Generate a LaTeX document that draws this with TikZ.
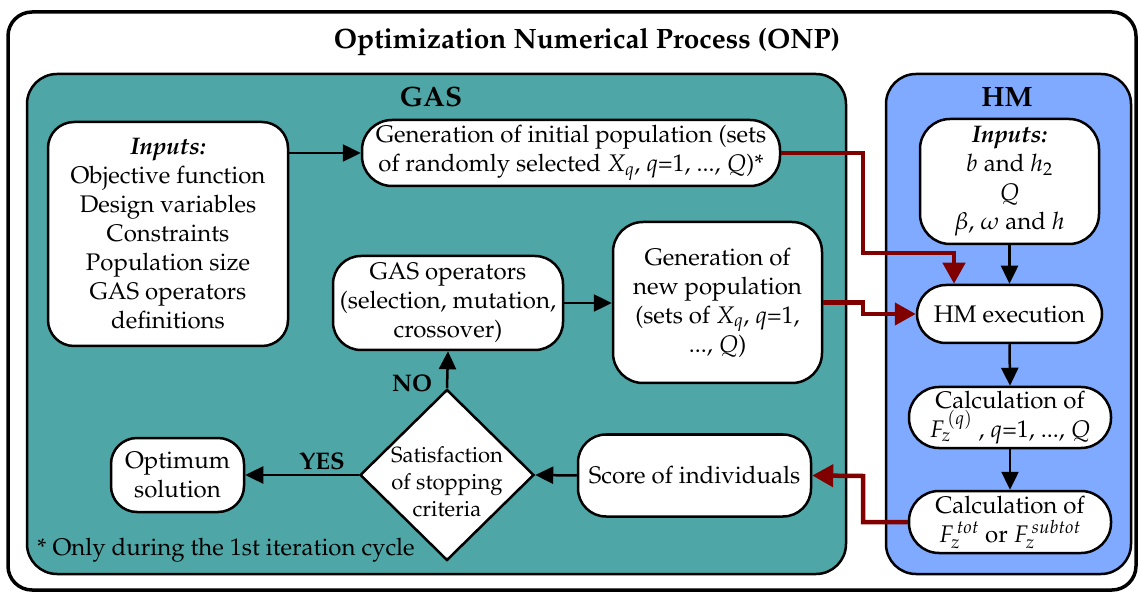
\documentclass[tikz,border=0pt]{standalone}
\usepackage[T1]{fontenc}
\usepackage{mathpazo}
\usetikzlibrary{arrows.meta,shapes.geometric,calc}
\definecolor{gasfill}{RGB}{79,166,166}
\definecolor{hmfill}{RGB}{128,170,255}
\definecolor{darkarrow}{RGB}{128,0,0}
\newcommand{\fsMain}{\fontsize{24}{29}\selectfont}
\newcommand{\fsDia}{\fontsize{22}{27}\selectfont}
\newcommand{\fsHead}{\fontsize{28}{32}\selectfont\bfseries}
\tikzset{
  box/.style={draw, fill=white, line width=2.5pt, align=center, inner sep=0pt, font=\fsMain},
  blk/.style={line width=2.5pt, -{Triangle[length=18pt,width=17pt]}},
  redarrow/.style={draw=darkarrow, line width=4.5pt, -{Triangle[length=21pt,width=22pt,fill=darkarrow]}},
  lbl/.style={font=\fontsize{24}{29}\selectfont\bfseries, inner sep=0pt}
}
\begin{document}
\begin{tikzpicture}[x=1pt,y=-1pt]
\useasboundingbox (0,0) rectangle (1138,593);
% containers
\draw[line width=3.5pt, rounded corners=24pt, fill=white] (8,12) rectangle (1136,590);
\draw[line width=2.5pt, rounded corners=30pt, fill=gasfill] (27,74) rectangle (846,574);
\draw[line width=2.5pt, rounded corners=30pt, fill=hmfill] (886,74) rectangle (1131,574);
\node[font=\fsHead] (title) at (587,42) {Optimization Numerical Process (ONP)};
\node[font=\fsHead] (gastitle) at (431,97) {GAS};
\node[font=\fsHead] (hmtitle) at (1007,97) {HM};
% GAS nodes
\node[box, rounded corners=26pt, minimum width=240pt, minimum height=224pt] (inG) at (168,234)
  {\textbf{\textit{Inputs:}}\\Objective function\\Design variables\\Constraints\\Population size\\GAS operators\\definitions};
\node[box, rounded corners=30pt, minimum width=418pt, minimum height=66pt] (init) at (571,153)
  {Generation of initial population (sets\\of randomly selected $X_q$, $q$=1, ..., $Q$)*};
\node[box, rounded corners=28pt, minimum width=230pt, minimum height=94pt] (ops) at (448,303)
  {GAS operators\\(selection, mutation,\\crossover)};
\node[box, rounded corners=30pt, minimum width=209pt, minimum height=161pt] (newp) at (717.5,302.5)
  {Generation of\\new population\\(sets of $X_q$, $q$=1,\\..., $Q$)};
\node[draw, fill=white, line width=2.5pt, shape=diamond, inner sep=0pt, minimum width=174pt, minimum height=171pt] (dia) at (447,475) {};
\node[font=\fsDia, align=center, inner sep=0pt] (diatext) at (447,482) {Satisfaction\\of stopping\\criteria};
\node[box, rounded corners=26pt, minimum width=133pt, minimum height=74pt] (opt) at (177.5,475)
  {Optimum\\solution};
\node[box, rounded corners=28pt, minimum width=233pt, minimum height=82pt] (score) at (694.5,475.5)
  {Score of individuals};
\node[font=\fsMain, anchor=west, inner sep=0pt] (foot) at (37,550) {* Only during the 1st iteration cycle};
% HM nodes
\node[box, rounded corners=30pt, minimum width=179pt, minimum height=125pt] (inH) at (1009.5,181.5)
  {\textbf{\textit{Inputs:}}\\$b$ and $h_2$\\$Q$\\$\beta$, $\omega$ and $h$};
\node[box, rounded corners=29pt, minimum width=185pt, minimum height=58pt] (exec) at (1009.5,314)
  {HM execution};
\node[box, rounded corners=30pt, minimum width=202pt, minimum height=61pt] (c1) at (1010,417.5)
  {Calculation of\\$F_z^{\,(q)}$ , $q$=1, ..., $Q$};
\node[box, rounded corners=30pt, minimum width=202pt, minimum height=62pt] (c2) at (1010,522)
  {Calculation of\\$F_z^{\,tot}$ or $F_z^{\,subtot}$};
% black connectors
\draw[blk] (inG.east |- init.west) -- (init.west);
\draw[blk] (ops.east) -- (ops.east -| newp.west);
\draw[blk] (dia.north) -- (ops.south);
\draw[blk] (dia.west) -- (dia.west -| opt.east);
\draw[blk] (score.west) -- (dia.east);
\draw[blk] (inH.south) -- (exec.north);
\draw[blk] (exec.south) -- (c1.north);
\draw[blk] (c1.south) -- (c2.north);
\node[lbl] (nolbl) at (412,383) {NO};
\node[lbl] (yeslbl) at (322,461) {YES};
% red connectors
\coordinate (r1) at (863,253);
\coordinate (r2) at (863,314);
\coordinate (r3) at (863,476);
\draw[redarrow] (init.east) -| (r1) -| ([xshift=-55.5pt]exec.north);
\draw[redarrow] (newp.east) -| (r2) -- (exec.west);
\draw[redarrow] (c2.west) -| (r3) -- (score.east);
\end{tikzpicture}
\end{document}
